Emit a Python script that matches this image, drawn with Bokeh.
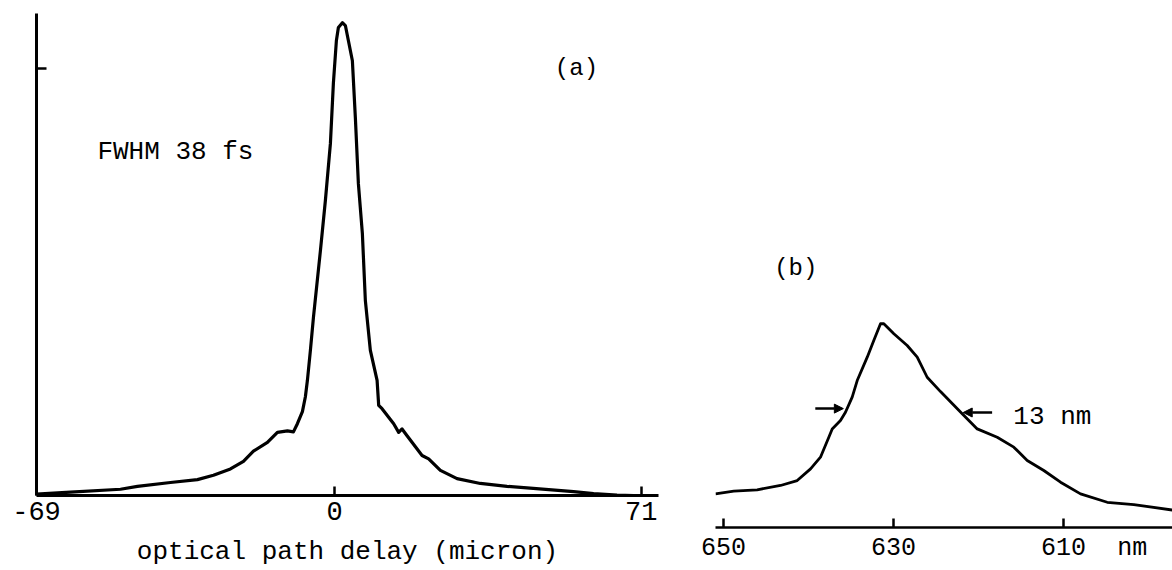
from bokeh.plotting import figure
from bokeh.layouts import row, column
from bokeh.models import Range1d, FixedTicker, Label, Arrow, NormalHead, CustomJSTickFormatter
from bokeh.embed import file_html
from bokeh.resources import INLINE

# ---------------- Panel (a): autocorrelation trace ----------------
delay_um = [-69.0, -61.13, -49.56, -45.63, -37.99, -31.74, -28.04, -24.10, -21.09, -18.78,
            -15.54, -13.23, -10.91, -9.52, -8.60, -7.44, -6.75, -6.28, -5.59, -4.89,
            -3.27, -2.12, -0.96, -0.27, 0.43, 0.89, 1.82, 2.51, 3.20, 4.13,
            4.82, 5.52, 6.44, 7.13, 8.29, 9.85, 10.22, 11.00, 13.69, 14.85,
            15.63, 16.79, 20.26, 21.79, 24.50, 28.36, 33.75, 39.93, 44.56, 55.35,
            59.98, 65.39, 69.23, 71.94]
autocorr = [0.003, 0.007, 0.013, 0.019, 0.027, 0.033, 0.042, 0.055, 0.071, 0.092,
            0.110, 0.131, 0.134, 0.132, 0.149, 0.174, 0.205, 0.239, 0.301, 0.369,
            0.508, 0.612, 0.730, 0.855, 0.944, 0.971, 0.981, 0.975, 0.944, 0.902,
            0.784, 0.647, 0.544, 0.405, 0.301, 0.239, 0.187, 0.180, 0.149, 0.131,
            0.138, 0.124, 0.083, 0.076, 0.052, 0.035, 0.025, 0.019, 0.016, 0.008,
            0.004, 0.001, 0.0, 0.0]
delay_ticks = [-69, 0, 71]
delay_tick_labels = {-69: "-69", 0: "0", 71: "71"}
y_mark_a = [0.885]

# ---------------- Panel (b): spectrum ----------------
wavelength_nm = [650.94, 648.79, 646.04, 643.29, 641.33, 639.76, 638.59, 637.61, 637.21, 636.24,
                 635.65, 634.86, 634.27, 633.09, 632.32, 631.53, 631.14, 629.96, 628.39, 627.21,
                 626.04, 624.47, 621.92, 620.15, 617.80, 615.85, 614.27, 612.32, 610.35, 608.0,
                 604.86, 601.73, 597.18]
spectrum = [0.164, 0.177, 0.184, 0.205, 0.229, 0.286, 0.343, 0.440, 0.481, 0.522,
            0.562, 0.636, 0.717, 0.831, 0.912, 0.994, 0.994, 0.945, 0.888, 0.831,
            0.733, 0.663, 0.555, 0.481, 0.440, 0.392, 0.327, 0.278, 0.221, 0.164,
            0.123, 0.112, 0.085]
wl_ticks = [650, 630, 610]
wl_unit_pos = 601.9
wl_tick_labels = {650: "650", 630: "630", 610: "610", 601.9: "nm"}
half_max_level = [0.580, 0.561]
fwhm_left_arrow_x = [639.2, 635.9]
fwhm_right_arrow_x = [618.4, 621.8]

MONO = "Liberation Mono"

# ---------- figure (a) ----------
p1 = figure(width=678, height=570, x_range=Range1d(-69, 75), y_range=Range1d(0, 1.0),
            output_backend="svg", toolbar_location=None,
            min_border_left=36, min_border_right=20, min_border_top=13, min_border_bottom=75)
p1.grid.visible = False
p1.outline_line_color = None

p1.line(delay_um, autocorr, line_color="black", line_width=3.2, line_join="round")

xa = p1.xaxis[0]
xa.ticker = FixedTicker(ticks=delay_ticks)
xa.major_label_overrides = delay_tick_labels
xa.major_tick_in = 9
xa.major_tick_out = 0
xa.minor_tick_line_color = None
xa.axis_line_width = 2.8
xa.major_tick_line_width = 2.5
xa.major_label_text_font = MONO
xa.major_label_text_font_size = "27px"
xa.major_label_text_color = "black"
xa.major_label_standoff = 6
xa.axis_label = "optical path delay (micron)"
xa.axis_label_text_font = MONO
xa.axis_label_text_font_size = "26px"
xa.axis_label_text_font_style = "normal"
xa.axis_label_text_color = "black"
xa.axis_label_standoff = 14

ya = p1.yaxis[0]
ya.ticker = FixedTicker(ticks=y_mark_a)
ya.formatter = CustomJSTickFormatter(code="return ''")
ya.major_tick_in = 10
ya.major_tick_out = 0
ya.minor_tick_line_color = None
ya.axis_line_width = 3
ya.major_tick_line_width = 2.5

p1.add_layout(Label(x=56, y=0.885, text="(a)", text_font=MONO, text_font_size="24px",
                    text_align="center", text_baseline="middle", text_color="black"))
p1.add_layout(Label(x=-54.9, y=0.713, text="FWHM 38 fs", text_font=MONO,
                    text_font_size="26px", text_align="left", text_baseline="middle",
                    text_color="black"))

# ---------- figure (b) ----------
p2 = figure(width=494, height=570, x_range=Range1d(650.94, 597.18), y_range=Range1d(0, 2.571),
            output_backend="svg", toolbar_location=None, y_axis_location=None,
            min_border_left=37, min_border_right=0, min_border_top=0, min_border_bottom=43)
p2.grid.visible = False
p2.outline_line_color = None

p2.line(wavelength_nm, spectrum, line_color="black", line_width=2.8, line_join="round")

xb = p2.xaxis[0]
xb.ticker = FixedTicker(ticks=wl_ticks + [wl_unit_pos], minor_ticks=wl_ticks)
xb.major_label_overrides = wl_tick_labels
xb.major_tick_line_color = None
xb.major_tick_in = 0
xb.major_tick_out = 0
xb.minor_tick_in = 9
xb.minor_tick_out = 0
xb.minor_tick_line_width = 2.5
xb.minor_tick_line_color = "black"
xb.axis_line_width = 2.5
xb.major_label_text_font = MONO
xb.major_label_text_font_size = "25px"
xb.major_label_text_color = "black"
xb.major_label_standoff = 6

p2.add_layout(Label(x=641.5, y=1.263, text="(b)", text_font=MONO, text_font_size="24px",
                    text_align="center", text_baseline="middle", text_color="black"))
p2.add_layout(Label(x=615.9, y=0.537, text="13 nm", text_font=MONO, text_font_size="26px",
                    text_align="left", text_baseline="middle", text_color="black"))

for xs, yv in ((fwhm_left_arrow_x, half_max_level[0]), (fwhm_right_arrow_x, half_max_level[1])):
    p2.add_layout(Arrow(end=NormalHead(size=9, fill_color="black", line_color="black"),
                        x_start=xs[0], y_start=yv, x_end=xs[1], y_end=yv,
                        line_color="black", line_width=2.5))

layout = row(p1, column(p2))
open("out.html", "w").write(file_html(layout, INLINE))
